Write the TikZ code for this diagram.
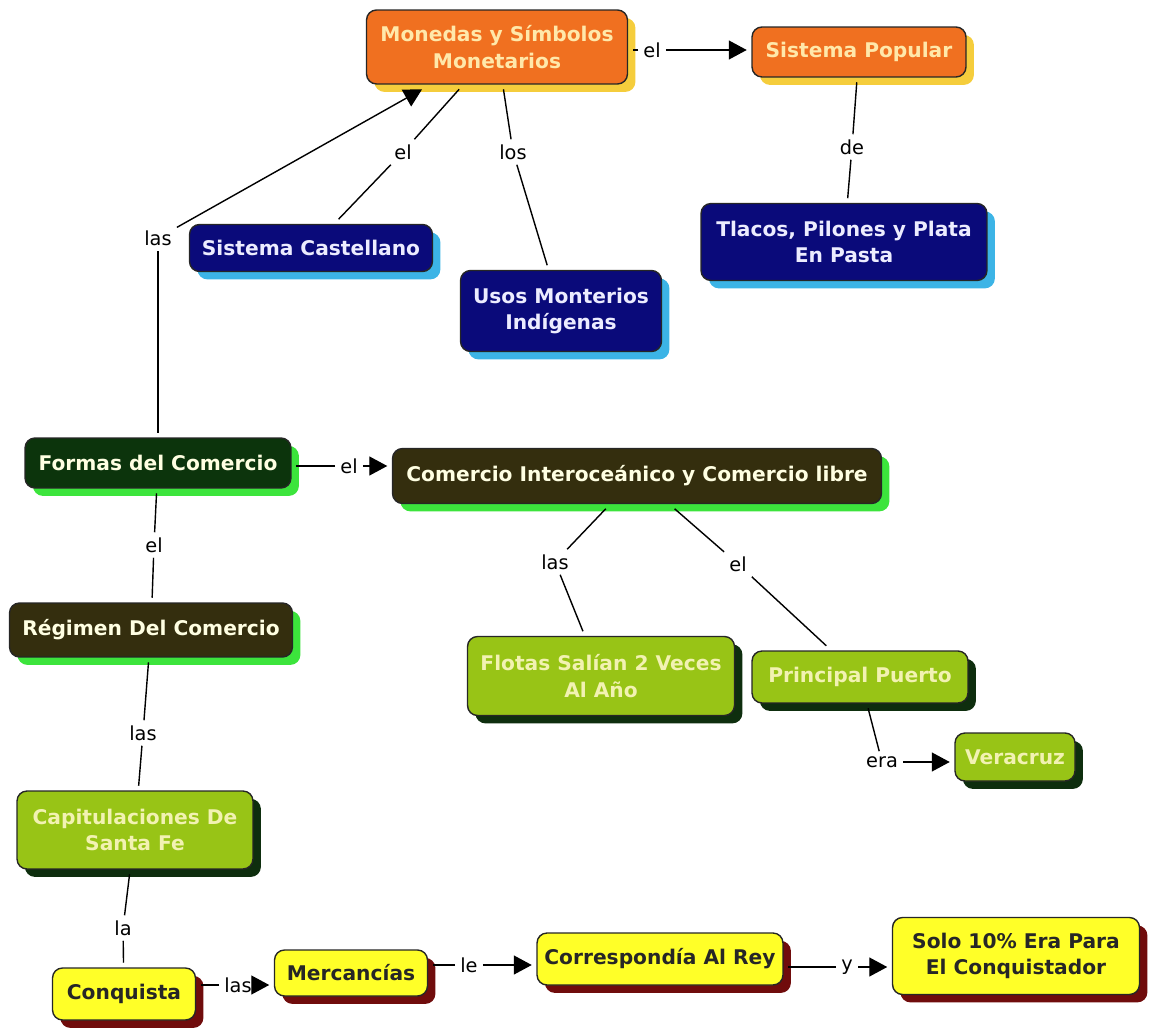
\documentclass[tikz,border=0pt]{standalone}
\usepackage{fontspec}
\setmainfont{DejaVu Sans}
\newfontfamily\cajafont{DejaVu Sans}
\usetikzlibrary{arrows.meta,shadows}

\definecolor{naranjo}{RGB}{240,112,32}
\definecolor{crema}{RGB}{255,232,170}
\definecolor{sombraamarilla}{RGB}{245,205,60}
\definecolor{marino}{RGB}{10,10,122}
\definecolor{lavanda}{RGB}{236,236,255}
\definecolor{celeste}{RGB}{60,180,230}
\definecolor{bosque}{RGB}{12,52,12}
\definecolor{oliva}{RGB}{52,46,14}
\definecolor{marfil}{RGB}{255,255,226}
\definecolor{verdevivo}{RGB}{60,228,60}
\definecolor{lima}{RGB}{152,196,22}
\definecolor{limatexto}{RGB}{242,242,178}
\definecolor{sombraoscura}{RGB}{14,46,14}
\definecolor{limon}{RGB}{255,255,40}
\definecolor{granate}{RGB}{112,12,12}

\begin{document}
\begin{tikzpicture}[x=0.02cm, y=-0.02cm,
    every node/.style={font=\fontsize{11}{13}\selectfont, outer sep=0pt},
    caja/.style={draw=black!85, line width=0.8pt, rounded corners=0.2cm, align=center,
        font=\cajafont\fontsize{11.5}{15}\selectfont\bfseries, inner sep=2pt, outer sep=3pt},
    naranja/.style={caja, fill=naranjo, text=crema,
        general shadow={fill=sombraamarilla, draw=none, shadow xshift=4.5pt, shadow yshift=-4.5pt}},
    azul/.style={caja, fill=marino, text=lavanda,
        general shadow={fill=celeste, draw=none, shadow xshift=4.5pt, shadow yshift=-4.5pt}},
    pino/.style={caja, fill=bosque, text=marfil,
        general shadow={fill=verdevivo, draw=none, shadow xshift=4.5pt, shadow yshift=-4.5pt}},
    olivo/.style={caja, fill=oliva, text=marfil,
        general shadow={fill=verdevivo, draw=none, shadow xshift=4.5pt, shadow yshift=-4.5pt}},
    verde/.style={caja, fill=lima, text=limatexto,
        general shadow={fill=sombraoscura, draw=none, shadow xshift=4.5pt, shadow yshift=-4.5pt}},
    amarilla/.style={caja, fill=limon, text=black!85,
        general shadow={fill=granate, draw=none, shadow xshift=4.5pt, shadow yshift=-4.5pt}},
    enlace/.style={inner sep=3pt, text=black},
    linea/.style={line width=0.8pt, black},
    flecha/.style={linea, -{Triangle[length=3.6mm, width=3.8mm]}}]
    \useasboundingbox (0,0) rectangle (1149,1030);

    % Monedas
    \node[naranja, minimum width=5.22cm, minimum height=1.48cm] (monedas) at (497,47) {Monedas y Símbolos\\Monetarios};
    \node[naranja, minimum width=4.28cm, minimum height=1.0cm] (popular) at (859,52) {Sistema Popular};
    \node[azul, minimum width=4.86cm, minimum height=0.94cm] (castellano) at (311,248) {Sistema Castellano};
    \node[azul, minimum width=4.02cm, minimum height=1.62cm] (usos) at (561,311) {Usos Monterios\\Indígenas};
    \node[azul, minimum width=5.72cm, minimum height=1.54cm] (tlacos) at (844,242) {Tlacos, Pilones y Plata\\En Pasta};

    % Comercio
    \node[pino, minimum width=5.32cm, minimum height=1.0cm] (formas) at (158,463) {Formas del Comercio};
    \node[olivo, minimum width=9.78cm, minimum height=1.1cm] (interoceanico) at (637,476) {Comercio Interoceánico y Comercio libre};
    \node[olivo, minimum width=5.66cm, minimum height=1.08cm] (regimen) at (151,630) {Régimen Del Comercio};
    \node[verde, minimum width=5.34cm, minimum height=1.58cm] (flotas) at (601,676) {Flotas Salían 2 Veces\\Al Año};
    \node[verde, minimum width=4.32cm, minimum height=1.04cm] (puerto) at (860,677) {Principal Puerto};
    \node[verde, minimum width=2.4cm, minimum height=0.96cm] (veracruz) at (1015,757) {Veracruz};
    \node[verde, minimum width=4.72cm, minimum height=1.56cm] (capitulaciones) at (135,830) {Capitulaciones De\\Santa Fe};

    % Conquista
    \node[amarilla, minimum width=2.86cm, minimum height=1.04cm] (conquista) at (124,994) {Conquista};
    \node[amarilla, minimum width=3.06cm, minimum height=0.92cm] (mercancias) at (351,973) {Mercancías};
    \node[amarilla, minimum width=4.92cm, minimum height=1.04cm] (rey) at (660,959) {Correspondía Al Rey};
    \node[amarilla, minimum width=4.94cm, minimum height=1.54cm] (conquistador) at (1016,956) {Solo 10\% Era Para\\El Conquistador};

    % Palabras de enlace
    \node[enlace] (elpopular) at (652,50) {el};
    \node[enlace] (elcastellano) at (403,152) {el};
    \node[enlace] (losusos) at (513,152) {los};
    \node[enlace] (lasformas) at (158,238) {las};
    \node[enlace] (detlacos) at (852,147) {de};
    \node[enlace] (elinter) at (349,466) {el};
    \node[enlace] (elregimen) at (154,545) {el};
    \node[enlace] (lascapit) at (143,733) {las};
    \node[enlace] (laconquista) at (123,928) {la};
    \node[enlace] (lasmerc) at (238,985) {las};
    \node[enlace] (lerey) at (469,965) {le};
    \node[enlace] (yconq) at (847,967) {y};
    \node[enlace] (lasflotas) at (555,562) {las};
    \node[enlace] (elpuerto) at (738,564) {el};
    \node[enlace] (eraveracruz) at (882,762) {era};

    % Conectores
    \draw[linea] (elpopular) -- (elpopular -| monedas.east);
    \draw[flecha] (elpopular) -- (elpopular -| popular.west);
    \draw[linea] (monedas) -- (elcastellano);
    \draw[linea] (elcastellano) -- (castellano);
    \draw[linea] (monedas) -- (losusos);
    \draw[linea] (losusos) -- (usos);
    \draw[linea] (popular) -- (detlacos);
    \draw[linea] (detlacos) -- (tlacos);
    \draw[linea] (formas) -- (lasformas);
    \draw[flecha] (lasformas) -- (monedas);
    \draw[linea] (elinter) -- (elinter -| formas.east);
    \draw[flecha] (elinter) -- (elinter -| interoceanico.west);
    \draw[linea] (formas) -- (elregimen);
    \draw[linea] (elregimen) -- (regimen);
    \draw[linea] (regimen) -- (lascapit);
    \draw[linea] (lascapit) -- (capitulaciones);
    \draw[linea] (capitulaciones) -- (laconquista);
    \draw[linea] (laconquista) -- (conquista);
    \draw[linea] (lasmerc) -- (lasmerc -| conquista.east);
    \draw[flecha] (lasmerc) -- (lasmerc -| mercancias.west);
    \draw[linea] (lerey) -- (lerey -| mercancias.east);
    \draw[flecha] (lerey) -- (lerey -| rey.west);
    \draw[linea] (yconq) -- (yconq -| rey.east);
    \draw[flecha] (yconq) -- (yconq -| conquistador.west);
    \draw[linea] (interoceanico) -- (lasflotas);
    \draw[linea] (lasflotas) -- (flotas);
    \draw[linea] (interoceanico) -- (elpuerto);
    \draw[linea] (elpuerto) -- (puerto);
    \draw[linea] (puerto) -- (eraveracruz);
    \draw[flecha] (eraveracruz) -- (eraveracruz -| veracruz.west);

\end{tikzpicture}
\end{document}
